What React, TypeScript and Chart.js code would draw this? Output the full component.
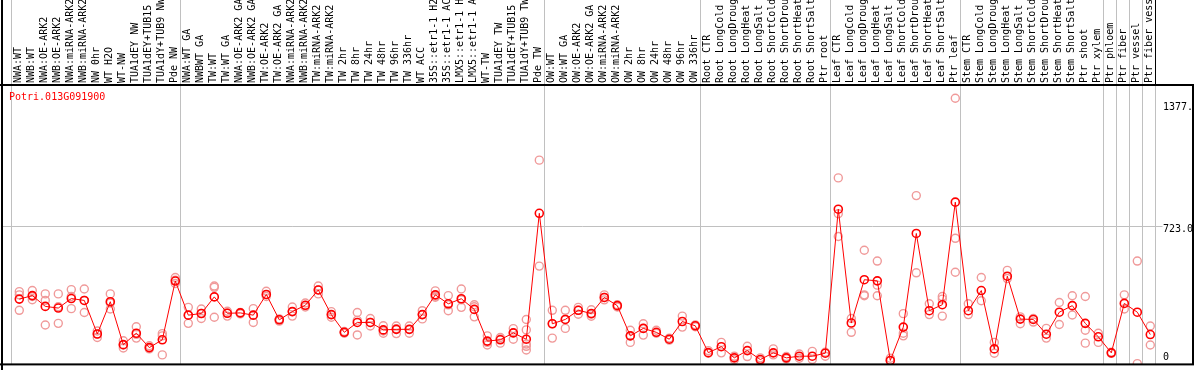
import React, { useEffect, useRef } from 'react';
import { Chart, registerables } from 'chart.js';

Chart.register(...registerables);

const geneTitle = 'Potri.013G091900';

const categories: string[] = [
  'NWA:WT', 'NWB:WT', 'NWA:OE-ARK2', 'NWB:OE-ARK2', 'NWA:miRNA-ARK2', 'NWB:miRNA-ARK2', 'NW 0hr', 'WT H2O', 'WT-NW',
  'TUA1dEY NW', 'TUA1dEY+TUB15', 'TUA1dY+TUB9 NW', 'Pde NW',
  'NWA:WT GA', 'NWBWT GA', 'TW:WT', 'TW:WT GA', 'NWA:OE-ARK2 GA', 'NWB:OE-ARK2 GA', 'TW:OE-ARK2', 'TW:OE-ARK2 GA',
  'NWA:miRNA-ARK2', 'NWB:miRNA-ARK2', 'TW:miRNA-ARK2', 'TW:miRNA-ARK2', 'TW 2hr', 'TW 8hr', 'TW 24hr', 'TW 48hr',
  'TW 96hr', 'TW 336hr', 'WT ACC', '35S::etr1-1 H2', '35S::etr1-1 AC', 'LMX5::etr1-1 H', 'LMX5::etr1-1 A', 'WT-TW',
  'TUA1dEY TW', 'TUA1dEY+TUB15', 'TUA1dY+TUB9 TW', 'Pde TW',
  'OW:WT', 'OW:WT GA', 'OW:OE-ARK2', 'OW:OE-ARK2 GA', 'OW:miRNA-ARK2', 'OW:miRNA-ARK2', 'OW 2hr', 'OW 8hr', 'OW 24hr',
  'OW 48hr', 'OW 96hr', 'OW 336hr',
  'Root CTR', 'Root LongCold', 'Root LongDroug', 'Root LongHeat', 'Root LongSalt', 'Root ShortCold', 'Root ShortDrou',
  'Root ShortHeat', 'Root ShortSalt', 'Ptr root',
  'Leaf CTR', 'Leaf LongCold', 'Leaf LongDroug', 'Leaf LongHeat', 'Leaf LongSalt', 'Leaf ShortCold', 'Leaf ShortDrou',
  'Leaf ShortHeat', 'Leaf ShortSalt', 'Ptr leaf',
  'Stem CTR', 'Stem LongCold', 'Stem LongDroug', 'Stem LongHeat', 'Stem LongSalt', 'Stem ShortCold', 'Stem ShortDrou',
  'Stem ShortHeat', 'Stem ShortSalt', 'Ptr shoot', 'Ptr xylem',
  'Ptr phloem', 'Ptr fiber', 'Ptr vessel', 'Ptr fiber vess',
];

// index of the first category of each group (a separator line is drawn before it)
const groupStarts: number[] = [0, 13, 41, 53, 63, 73, 84, 85, 86, 87];

const meanValues: number[] = [
  331, 350, 292, 283, 334, 324, 144, 317, 87, 148, 71, 113, 428,
  245, 254, 343, 255, 257, 245, 356, 220, 264, 298, 380, 248, 153, 206, 206, 166, 169, 169, 248, 354, 306, 333, 276,
  106, 113, 150, 116, 791,
  199, 222, 271, 254, 340, 296, 134, 174, 153, 116, 211, 188,
  44, 76, 16, 55, 7, 43, 16, 25, 25, 41,
  813, 203, 435, 429, 2, 181, 683, 269, 301, 851,
  269, 377, 64, 454, 224, 222, 143, 261, 296, 201, 129,
  43, 308, 261, 141,
];

const replicateValues: number[][] = [
  [371, 354, 271], [377, 345, 328], [359, 324, 192], [359, 201, 290], [382, 345, 280], [385, 324, 259],
  [160, 144, 125], [359, 310, 278], [108, 85, 69], [183, 142, 122], [81, 69, 64], [146, 134, 32], [447, 433, 415],
  [287, 245, 201], [278, 254, 227], [401, 394, 234], [266, 257, 240], [260, 257, 252], [280, 245, 206],
  [373, 355, 345], [225, 222, 213], [289, 264, 240], [310, 297, 289], [401, 380, 359], [264, 248, 234],
  [157, 153, 148], [259, 217, 139], [227, 206, 187], [188, 160, 148], [187, 172, 146], [187, 169, 148],
  [269, 248, 225], [375, 347, 341], [350, 300, 269], [385, 328, 287], [301, 290, 236], [134, 99, 85],
  [125, 117, 95], [173, 150, 116], [222, 166, 90, 78, 58], [1076, 508],
  [271, 199, 122], [271, 222, 174], [287, 271, 250], [274, 250, 239], [354, 340, 327], [301, 289],
  [164, 134, 99], [199, 174, 138], [164, 148], [122, 111], [240, 181], [193, 183],
  [55, 41], [99, 43], [25, 6], [78, 23], [16, 0], [64, 32], [23, 11], [37, 14], [51, 7], [46, 25],
  [981, 789, 667], [227, 153], [593, 354, 349], [535, 406, 349], [14, 0], [253, 148, 134], [886, 472],
  [306, 248], [345, 331, 240], [1408, 657, 475],
  [306, 248], [447, 322], [99, 41], [485, 441], [236, 199], [227, 208], [174, 122], [313, 195], [349, 246],
  [345, 164, 95], [148, 99],
  [46, 40], [354, 278], [535, -15], [187, 85],
];

const yTickValues: number[] = [1377, 723, 0];
const yTickLabels: string[] = ['1377.', '723.0', '0'];
const gridValue = 723;

const MONO = '10px "DejaVu Sans Mono", "Liberation Mono", monospace';

export default function App() {
  const ref = useRef<HTMLCanvasElement | null>(null);

  useEffect(() => {
    const canvas = ref.current;
    if (!canvas) return;

    const maxReps = Math.max(...replicateValues.map((r) => r.length));
    const replicateDatasets = Array.from({ length: maxReps }, (_, k) => ({
      label: 'replicate ' + (k + 1),
      data: replicateValues.map((r) => (k < r.length ? r[k] : null)),
      showLine: false,
      pointStyle: 'circle',
      pointRadius: 4,
      pointBorderWidth: 1.4,
      pointBorderColor: '#f09a9a',
      pointBackgroundColor: 'rgba(255,255,255,0)',
      order: 1 + k,
    }));

    const framePlugin = {
      id: 'framePlugin',
      beforeDatasetsDraw(chart: any) {
        const ctx = chart.ctx as CanvasRenderingContext2D;
        const xs = chart.scales.x;
        const ys = chart.scales.y;
        const bottom = chart.chartArea.bottom;
        ctx.save();
        ctx.strokeStyle = '#c0c0c0';
        ctx.lineWidth = 1;
        groupStarts.forEach((idx) => {
          const px = Math.floor(xs.getPixelForValue(idx) - 8.3) + 0.5;
          ctx.beginPath();
          ctx.moveTo(px, 0);
          ctx.lineTo(px, bottom);
          ctx.stroke();
        });
        const endX = Math.floor(xs.getPixelForValue(categories.length - 1) + 4.7) + 0.5;
        ctx.beginPath();
        ctx.moveTo(endX, chart.chartArea.top);
        ctx.lineTo(endX, bottom);
        ctx.stroke();
        const gy = Math.floor(ys.getPixelForValue(gridValue)) + 0.5;
        ctx.beginPath();
        ctx.moveTo(2, gy);
        ctx.lineTo(endX + 7, gy);
        ctx.stroke();
        ctx.restore();
      },
      afterDraw(chart: any) {
        const ctx = chart.ctx as CanvasRenderingContext2D;
        const xs = chart.scales.x;
        const ys = chart.scales.y;
        const { top, bottom } = chart.chartArea;
        const W = chart.width;
        const endX = Math.floor(xs.getPixelForValue(categories.length - 1) + 4.7);
        ctx.save();
        ctx.fillStyle = '#000000';
        ctx.fillRect(1, 0, 2, chart.height);
        ctx.fillRect(0, top - 1, W, 2);
        ctx.fillRect(0, bottom - 1, W, 2);
        ctx.fillRect(W - 2, top, 2, bottom - top);
        ctx.fillRect(endX, 0, 1, top);
        ctx.font = MONO;
        ctx.fillStyle = '#000000';
        ctx.textAlign = 'left';
        ctx.textBaseline = 'middle';
        categories.forEach((lab, i) => {
          const px = xs.getPixelForValue(i) - 1;
          ctx.save();
          ctx.translate(px, top - 2);
          ctx.rotate(-Math.PI / 2);
          ctx.fillText(lab, 0, 0);
          ctx.restore();
        });
        yTickValues.forEach((v, k) => {
          let py = ys.getPixelForValue(v) + 3.4;
          py = Math.min(py, bottom - 7);
          ctx.fillText(yTickLabels[k], endX + 8, py);
        });
        ctx.fillStyle = '#ff0000';
        ctx.fillText(geneTitle, 9, top + 12);
        ctx.restore();
      },
    };

    const chart = new Chart(canvas, {
      type: 'line',
      data: {
        labels: categories,
        datasets: [
          {
            label: 'mean',
            data: meanValues,
            borderColor: '#ff0000',
            borderWidth: 1,
            pointStyle: 'circle',
            pointRadius: 4,
            pointBorderWidth: 1.6,
            pointBorderColor: '#ff0000',
            pointBackgroundColor: 'rgba(255,255,255,0)',
            tension: 0,
            order: 0,
          },
          ...(replicateDatasets as any[]),
        ],
      },
      options: {
        responsive: false,
        maintainAspectRatio: false,
        animation: false,
        devicePixelRatio: 1,
        layout: { padding: { left: 12.8, right: 37.2, top: 85, bottom: 1 } },
        plugins: { legend: { display: false }, tooltip: { enabled: false }, title: { display: false } },
        scales: {
          x: { type: 'category', offset: true, display: false },
          y: { type: 'linear', min: -19, max: 1479, display: false },
        },
      },
      plugins: [framePlugin],
    });

    return () => chart.destroy();
  }, []);

  return (
    <div style={{ position: 'fixed', left: 0, top: 0, width: 1194, height: 370, background: '#ffffff' }}>
      <canvas ref={ref} width={1194} height={370} style={{ display: 'block' }} />
    </div>
  );
}
